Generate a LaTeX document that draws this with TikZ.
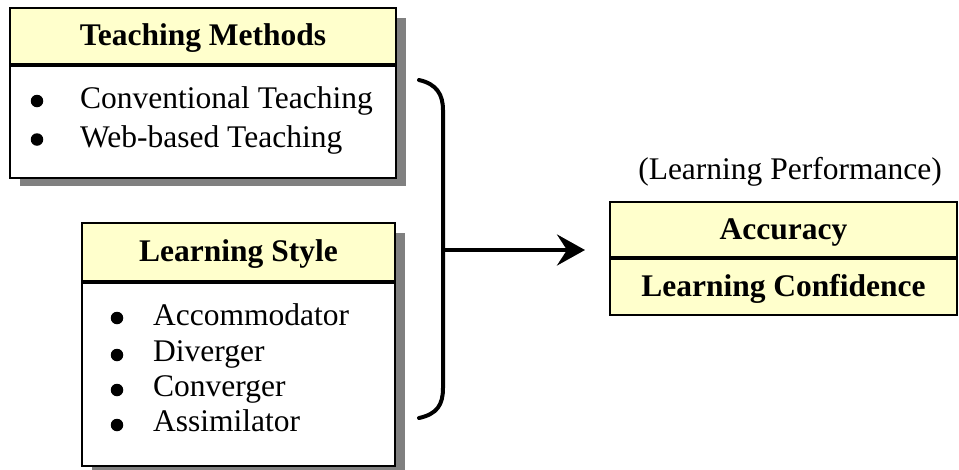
\documentclass[tikz,border=0pt]{standalone}
\usepackage{fontspec}
\setmainfont{Liberation Serif}
\usetikzlibrary{arrows.meta}
\definecolor{hdrfill}{RGB}{255,255,204}
\definecolor{shadowgrey}{RGB}{128,128,128}
\begin{document}
\begin{tikzpicture}[x=1pt,y=-1pt,
  txt/.style={font=\fontsize{31.5}{36}\selectfont},
  hdrbox/.style={draw=black, fill=hdrfill, line width=1.8pt, inner sep=0pt,
    text height=19pt, text depth=0pt, font=\fontsize{31.5}{36}\selectfont\bfseries},
  bodybox/.style={draw=black, fill=white, line width=1.8pt, inner sep=0pt},
  item/.style={txt, anchor=base west, inner sep=0pt},
  dot/.style={circle, fill=black, inner sep=0pt, minimum size=12.5pt},
  shadowrect/.style={fill=shadowgrey},
  bracket/.style={line width=4pt, line cap=round},
]
\useasboundingbox (0,0) rectangle (959,469);

% drop shadows of the two input boxes
\fill[shadowrect] (20,18) rectangle (406,186);
\fill[shadowrect] (92,233) rectangle (405,475);

% Teaching Methods box
\node[hdrbox, minimum width=386pt, minimum height=56pt] (tmh) at (203,36) {Teaching Methods};
\node[bodybox, minimum width=386pt, minimum height=112pt, anchor=north] (tmb) at (tmh.south) {};
\node[dot] (tmd1) at (37,101) {};
\node[item] (tm1) at (80,108) {Conventional Teaching};
\node[dot] (tmd2) at (37,139.5) {};
\node[item] (tm2) at (80,147) {Web-based Teaching};

% Learning Style box
\node[hdrbox, minimum width=313pt, minimum height=58pt] (lsh) at (238.5,252) {Learning Style};
\node[bodybox, minimum width=313pt, minimum height=183pt, anchor=north] (lsb) at (lsh.south) {};
\node[dot] (lsd1) at (117,318) {};
\node[item] (ls1) at (153,325) {Accommodator};
\node[dot] (lsd2) at (117,355) {};
\node[item] (ls2) at (153,361) {Diverger};
\node[dot] (lsd3) at (117,390) {};
\node[item] (ls3) at (153,396) {Converger};
\node[dot] (lsd4) at (117,425) {};
\node[item] (ls4) at (153,431) {Assimilator};

% Learning performance box
\node[txt, anchor=base, inner sep=0pt] (perf) at (790,179) {(Learning Performance)};
\node[hdrbox, minimum width=347pt, minimum height=55pt] (acc) at (783.5,229.5) {Accuracy};
\node[hdrbox, minimum width=347pt, minimum height=56pt, anchor=north] (conf) at (acc.south) {Learning Confidence};

% closing bracket joining the two inputs
\draw[bracket] (419,80) .. controls (437,84) and (443,95) .. (443,110)
  -- (443,388) .. controls (443,405) and (437,414) .. (419,418);

% arrow towards the performance box
\coordinate (brmid) at (443,250);
\coordinate (tip) at (585,250);
\draw[line width=4pt, -{Stealth[length=28pt, width=31pt, inset=10pt]}] (brmid) -- (tip);
\end{tikzpicture}
\end{document}
